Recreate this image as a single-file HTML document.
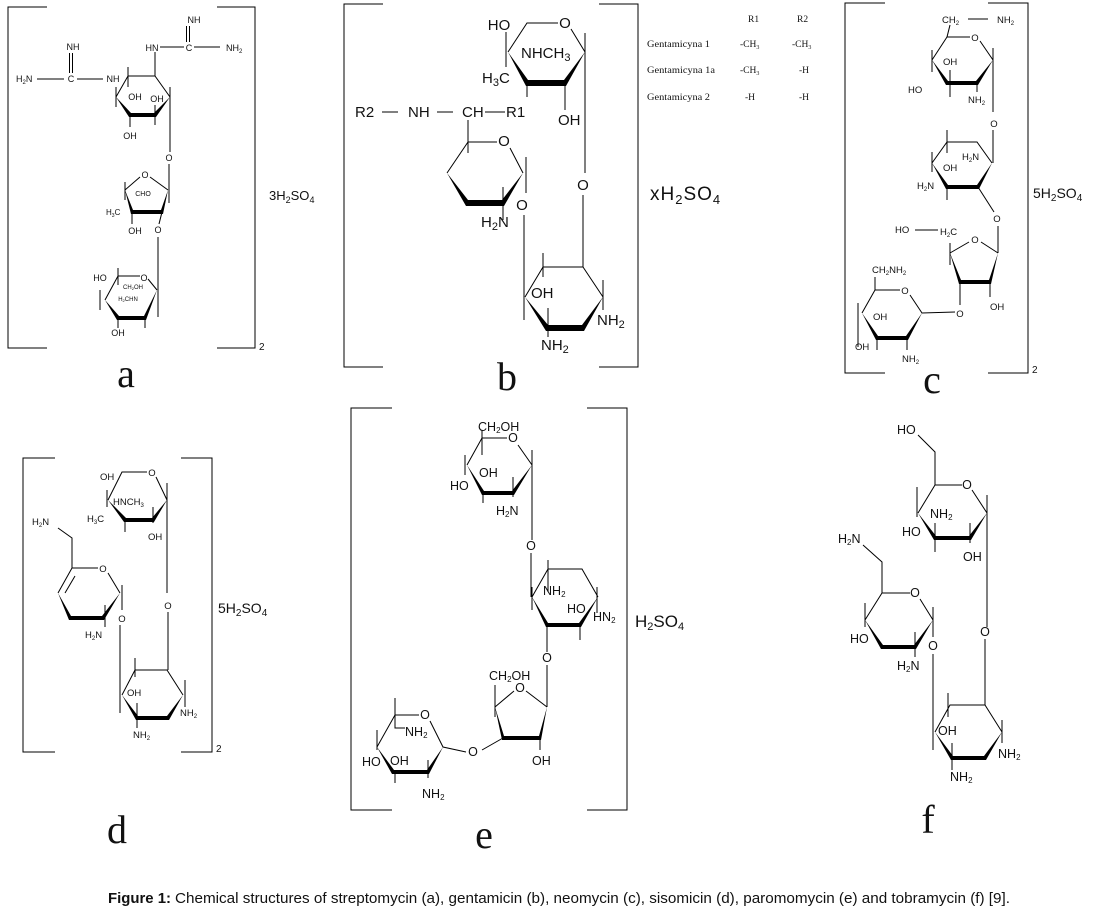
<!DOCTYPE html>
<html><head><meta charset="utf-8"><style>
html,body{margin:0;padding:0;background:#fff;}
svg{display:block;}
text{font-family:"Liberation Sans",Arial,sans-serif;fill:#111;}
.ser{font-family:"Liberation Serif","Times New Roman",serif;}
.m{text-anchor:middle;}
</style></head><body>
<svg width="1114" height="912" viewBox="0 0 1114 912" xmlns="http://www.w3.org/2000/svg">
<rect width="1114" height="912" fill="#fff"/>

<!-- ================= a ================= -->
<g stroke="#000" stroke-width="1" fill="none">
<path d="M47,7 H8 V348 H47"/>
<path d="M217,7 H255 V348 H217"/>
<line x1="186.5" y1="26" x2="186.5" y2="42"/><line x1="189.5" y1="26" x2="189.5" y2="42"/>
<line x1="160" y1="47" x2="184" y2="47"/><line x1="194" y1="47" x2="220" y2="47"/>
<line x1="155" y1="52" x2="155" y2="76"/>
<line x1="69.5" y1="53" x2="69.5" y2="73"/><line x1="72.5" y1="53" x2="72.5" y2="73"/>
<line x1="37" y1="79" x2="64" y2="79"/><line x1="77" y1="79" x2="103" y2="79"/>
<line x1="128" y1="67" x2="128" y2="87"/>
<path d="M116,97 L128,76 L155,76 L170,97"/>
<line x1="116" y1="87" x2="116" y2="107"/>
<line x1="170" y1="87" x2="170" y2="152"/>
<line x1="130" y1="115" x2="130" y2="127"/>
<line x1="155" y1="105" x2="155" y2="125"/>
<line x1="169" y1="164" x2="169" y2="190"/>
<path d="M125,190 L140,177 M150,177 L168,190"/>
<line x1="125" y1="182" x2="125" y2="200"/>
<line x1="169" y1="182" x2="169" y2="203"/>
<line x1="132" y1="212" x2="132" y2="224"/>
<line x1="162" y1="212" x2="159" y2="224"/>
<line x1="158" y1="237" x2="158" y2="317"/>
<path d="M105,300 L118,276 L140,276 M148,279 L157,290"/>
<line x1="100" y1="290" x2="100" y2="310"/>
<line x1="118" y1="268" x2="118" y2="285"/>
<line x1="118" y1="318" x2="118" y2="328"/>
<line x1="145" y1="318" x2="145" y2="328"/>
</g>
<g fill="#000">
<polygon points="116,97 129,117 156,117 170,97 154,113 131,113"/>
<polygon points="125,190 131,214 163,214 168,190 161,210 133,210"/>
<polygon points="105,300 117,320 146,320 157,290 144,316 119,316"/>
</g>
<g font-size="9">
<text class="m" x="194" y="23">NH</text>
<text class="m" x="189" y="51">C</text>
<text class="m" x="152" y="51">HN</text>
<text x="226" y="51">NH<tspan font-size="6" dy="2">2</tspan></text>
<text class="m" x="73" y="50">NH</text>
<text class="m" x="71" y="82">C</text>
<text x="16" y="82">H<tspan font-size="6" dy="2">2</tspan><tspan dy="-2">N</tspan></text>
<text class="m" x="113" y="82">NH</text>
<text class="m" x="135" y="100">OH</text>
<text class="m" x="157" y="102">OH</text>
<text class="m" x="130" y="139">OH</text>
<text class="m" x="169" y="161">O</text>
<text class="m" x="145" y="178">O</text>
<text class="m" x="143" y="196" font-size="7">CHO</text>
<text x="106" y="215" font-size="8">H<tspan font-size="5" dy="2">3</tspan><tspan dy="-2">C</tspan></text>
<text class="m" x="135" y="234">OH</text>
<text class="m" x="158" y="233">O</text>
<text class="m" x="100" y="281">HO</text>
<text class="m" x="144" y="281">O</text>
<text class="m" x="133" y="289" font-size="6">CH<tspan font-size="4" dy="1">2</tspan><tspan dy="-1">OH</tspan></text>
<text class="m" x="128" y="301" font-size="6">H<tspan font-size="4" dy="1">2</tspan><tspan dy="-1">CHN</tspan></text>
<text class="m" x="118" y="336">OH</text>
</g>
<text x="259" y="350" font-size="10">2</text>
<text x="269" y="200" font-size="13">3H<tspan font-size="9" dy="3">2</tspan><tspan dy="-3">SO</tspan><tspan font-size="9" dy="3">4</tspan></text>
<text class="ser m" x="126" y="387" font-size="40">a</text>

<!-- ================= b ================= -->
<g stroke="#000" stroke-width="1" fill="none">
<path d="M383,4 H344 V367 H383"/>
<path d="M599,4 H638 V367 H599"/>
<path d="M508,52 L527,23 L558,23 M571,29 L585,52"/>
<line x1="506" y1="32" x2="506" y2="67"/>
<line x1="527" y1="83" x2="527" y2="97"/>
<line x1="565" y1="83" x2="565" y2="110"/>
<line x1="585" y1="33" x2="585" y2="173"/>
<line x1="583" y1="195" x2="583" y2="267"/>
<line x1="382" y1="112" x2="398" y2="112"/>
<line x1="437" y1="112" x2="453" y2="112"/>
<line x1="485" y1="112" x2="505" y2="112"/>
<line x1="468" y1="120" x2="468" y2="153"/>
<path d="M447,173 L468,142 L497,142 M510,148 L523,173"/>
<line x1="526" y1="157" x2="526" y2="193"/>
<line x1="503" y1="187" x2="503" y2="220"/>
<line x1="524" y1="215" x2="524" y2="320"/>
<path d="M525,297 L543,267 L583,267 L603,297"/>
<line x1="543" y1="253" x2="543" y2="277"/>
<line x1="603" y1="280" x2="603" y2="310"/>
<line x1="548" y1="308" x2="548" y2="337"/>
</g>
<g fill="#000">
<polygon points="508,52 526,86 566,86 585,52 564,80 528,80"/>
<polygon points="447,173 466,206 504,206 523,173 502,200 468,200"/>
<polygon points="525,297 546,331 584,331 603,297 582,325 548,325"/>
</g>
<g font-size="15" fill="#222">
<text class="m" x="499" y="30">HO</text>
<text class="m" x="565" y="28">O</text>
<text x="521" y="58">NHCH<tspan font-size="11" dy="3">3</tspan></text>
<text x="482" y="83">H<tspan font-size="11" dy="3">3</tspan><tspan dy="-3">C</tspan></text>
<text x="558" y="125">OH</text>
<text class="m" x="583" y="190">O</text>
<text x="355" y="117">R2</text>
<text x="408" y="117">NH</text>
<text x="462" y="117">CH</text>
<text x="506" y="117">R1</text>
<text class="m" x="504" y="146">O</text>
<text class="m" x="522" y="210">O</text>
<text x="481" y="227">H<tspan font-size="11" dy="3">2</tspan><tspan dy="-3">N</tspan></text>
<text x="531" y="298">OH</text>
<text x="597" y="325">NH<tspan font-size="11" dy="3">2</tspan></text>
<text x="541" y="350">NH<tspan font-size="11" dy="3">2</tspan></text>
</g>
<text x="650" y="200" font-size="19" letter-spacing="1">xH<tspan font-size="13" dy="4">2</tspan><tspan dy="-4">SO</tspan><tspan font-size="13" dy="4">4</tspan></text>
<text class="ser m" x="507" y="390" font-size="40">b</text>
<g class="ser" font-size="9.5">
<text class="ser" x="748" y="22">R1</text>
<text class="ser" x="797" y="22">R2</text>
<text class="ser" x="647" y="47" textLength="63" lengthAdjust="spacingAndGlyphs">Gentamicyna 1</text>
<text class="ser" x="740" y="47">-CH<tspan font-size="6" dy="2">3</tspan></text>
<text class="ser" x="792" y="47">-CH<tspan font-size="6" dy="2">3</tspan></text>
<text class="ser" x="647" y="73" textLength="68" lengthAdjust="spacingAndGlyphs">Gentamicyna 1a</text>
<text class="ser" x="740" y="73">-CH<tspan font-size="6" dy="2">3</tspan></text>
<text class="ser" x="799" y="73">-H</text>
<text class="ser" x="647" y="100" textLength="63" lengthAdjust="spacingAndGlyphs">Gentamicyna 2</text>
<text class="ser" x="745" y="100">-H</text>
<text class="ser" x="799" y="100">-H</text>
</g>

<!-- ================= c ================= -->
<g stroke="#000" stroke-width="1" fill="none">
<path d="M885,3 H845 V373 H885"/>
<path d="M988,3 H1028 V373 H988"/>
<line x1="968" y1="19" x2="988" y2="19"/>
<line x1="950" y1="25" x2="947" y2="37"/>
<path d="M932,60 L947,37 L970,37 M980,41 L993,60"/>
<line x1="932" y1="50" x2="932" y2="72"/>
<line x1="950" y1="70" x2="950" y2="97"/>
<line x1="977" y1="83" x2="977" y2="92"/>
<line x1="993" y1="48" x2="993" y2="112"/>
<line x1="993" y1="130" x2="993" y2="163"/>
<path d="M932,163 L947,142 L977,142 L992,163"/>
<line x1="947" y1="130" x2="947" y2="153"/>
<line x1="932" y1="152" x2="932" y2="172"/>
<line x1="947" y1="187" x2="947" y2="200"/>
<line x1="978" y1="187" x2="994" y2="212"/>
<line x1="998" y1="226" x2="998" y2="253"/>
<line x1="915" y1="230" x2="938" y2="230"/>
<path d="M950,253 L969,242 M981,242 L998,253"/>
<line x1="950" y1="243" x2="950" y2="265"/>
<line x1="990" y1="282" x2="990" y2="297"/>
<line x1="960" y1="282" x2="960" y2="305"/>
<line x1="875" y1="277" x2="875" y2="290"/>
<path d="M862,313 L875,290 L900,290 M910,295 L922,313 L955,312"/>
<line x1="858" y1="303" x2="858" y2="347"/>
<line x1="877" y1="338" x2="877" y2="350"/>
<line x1="907" y1="338" x2="907" y2="350"/>
</g>
<g fill="#000">
<polygon points="932,60 946,85 978,85 993,60 976,81 948,81"/>
<polygon points="932,163 946,189 979,189 992,163 977,185 948,185"/>
<polygon points="950,253 959,284 991,284 998,253 989,280 961,280"/>
<polygon points="862,313 876,340 908,340 922,313 906,336 878,336"/>
</g>
<g font-size="9.5">
<text x="942" y="23">CH<tspan font-size="6" dy="2">2</tspan></text>
<text x="997" y="23">NH<tspan font-size="6" dy="2">2</tspan></text>
<text class="m" x="975" y="41">O</text>
<text x="943" y="65">OH</text>
<text x="908" y="93">HO</text>
<text x="968" y="103">NH<tspan font-size="6" dy="2">2</tspan></text>
<text class="m" x="994" y="127">O</text>
<text x="962" y="160">H<tspan font-size="6" dy="2">2</tspan><tspan dy="-2">N</tspan></text>
<text x="943" y="171">OH</text>
<text x="917" y="189">H<tspan font-size="6" dy="2">2</tspan><tspan dy="-2">N</tspan></text>
<text class="m" x="997" y="222">O</text>
<text x="895" y="233">HO</text>
<text x="940" y="235">H<tspan font-size="6" dy="2">2</tspan><tspan dy="-2">C</tspan></text>
<text class="m" x="975" y="243">O</text>
<text x="990" y="310">OH</text>
<text class="m" x="960" y="317">O</text>
<text x="872" y="273">CH<tspan font-size="6" dy="2">2</tspan><tspan dy="-2">NH</tspan><tspan font-size="6" dy="2">2</tspan></text>
<text class="m" x="905" y="294">O</text>
<text x="873" y="320">OH</text>
<text x="855" y="350">OH</text>
<text x="902" y="362">NH<tspan font-size="6" dy="2">2</tspan></text>
</g>
<text x="1032" y="373" font-size="10">2</text>
<text x="1033" y="198" font-size="14">5H<tspan font-size="10" dy="3">2</tspan><tspan dy="-3">SO</tspan><tspan font-size="10" dy="3">4</tspan></text>
<text class="ser m" x="932" y="393" font-size="40">c</text>

<!-- ================= d ================= -->
<g stroke="#000" stroke-width="1" fill="none">
<path d="M55,458 H23 V752 H55"/>
<path d="M181,458 H212 V752 H181"/>
<path d="M108,500 L122,472 L147,472 M156,477 L167,500"/>
<line x1="107" y1="490" x2="107" y2="507"/>
<line x1="125" y1="520" x2="125" y2="532"/>
<line x1="153" y1="507" x2="153" y2="523"/>
<line x1="167" y1="483" x2="167" y2="593"/>
<line x1="168" y1="612" x2="168" y2="670"/>
<path d="M58,528 L72,538 L72,568 L98,568 M108,573 L120,593"/>
<path d="M72,568 L58,593 M75,576 L65,593"/>
<line x1="122" y1="585" x2="122" y2="610"/>
<line x1="105" y1="605" x2="105" y2="627"/>
<line x1="120" y1="625" x2="120" y2="713"/>
<path d="M122,695 L135,670 L167,670 L183,695"/>
<line x1="135" y1="658" x2="135" y2="677"/>
<line x1="185" y1="680" x2="185" y2="707"/>
<line x1="137" y1="703" x2="137" y2="728"/>
</g>
<g fill="#000">
<polygon points="108,500 124,522 154,522 167,500 152,518 126,518"/>
<polygon points="58,593 69,620 104,620 120,593 102,616 71,616"/>
<polygon points="122,695 136,720 169,720 183,695 167,716 138,716"/>
</g>
<g font-size="9.5">
<text x="100" y="480">OH</text>
<text class="m" x="152" y="476">O</text>
<text x="113" y="505">HNCH<tspan font-size="6" dy="2">3</tspan></text>
<text x="87" y="522">H<tspan font-size="6" dy="2">3</tspan><tspan dy="-2">C</tspan></text>
<text x="148" y="540">OH</text>
<text class="m" x="168" y="609">O</text>
<text x="32" y="525">H<tspan font-size="6" dy="2">2</tspan><tspan dy="-2">N</tspan></text>
<text class="m" x="103" y="572">O</text>
<text class="m" x="122" y="622">O</text>
<text x="85" y="638">H<tspan font-size="6" dy="2">2</tspan><tspan dy="-2">N</tspan></text>
<text x="127" y="696">OH</text>
<text x="180" y="716">NH<tspan font-size="6" dy="2">2</tspan></text>
<text x="133" y="738">NH<tspan font-size="6" dy="2">2</tspan></text>
</g>
<text x="216" y="752" font-size="10">2</text>
<text x="218" y="613" font-size="14">5H<tspan font-size="10" dy="3">2</tspan><tspan dy="-3">SO</tspan><tspan font-size="10" dy="3">4</tspan></text>
<text class="ser m" x="117" y="843" font-size="40">d</text>

<!-- ================= e ================= -->
<g stroke="#000" stroke-width="1" fill="none">
<path d="M392,408 H351 V810 H392"/>
<path d="M587,408 H627 V810 H587"/>
<path d="M467,465 L482,438 L507,438 M518,445 L532,465"/>
<line x1="482" y1="430" x2="482" y2="455"/>
<line x1="465" y1="455" x2="465" y2="475"/>
<line x1="483" y1="493" x2="483" y2="503"/>
<line x1="513" y1="477" x2="513" y2="497"/>
<line x1="532" y1="450" x2="532" y2="540"/>
<line x1="531" y1="553" x2="531" y2="597"/>
<path d="M532,597 L548,569 L582,569 L598,597"/>
<line x1="548" y1="560" x2="548" y2="592"/>
<line x1="597" y1="587" x2="597" y2="613"/>
<line x1="532" y1="587" x2="532" y2="610"/>
<line x1="580" y1="623" x2="580" y2="640"/>
<line x1="547" y1="625" x2="547" y2="652"/>
<line x1="547" y1="665" x2="547" y2="707"/>
<path d="M495,707 L514,691 M526,691 L547,707"/>
<line x1="495" y1="685" x2="495" y2="717"/>
<line x1="503" y1="738" x2="482" y2="750"/>
<line x1="540" y1="738" x2="540" y2="750"/>
<path d="M377,747 L395,715 L419,715 M430,721 L443,747 L466,752"/>
<path d="M395,698 L395,728 L405,728"/>
<line x1="377" y1="730" x2="377" y2="750"/>
<line x1="428" y1="760" x2="428" y2="778"/>
<line x1="395" y1="772" x2="395" y2="783"/>
</g>
<g fill="#000">
<polygon points="467,465 482,495 514,495 532,465 512,491 484,491"/>
<polygon points="532,597 546,627 581,627 598,597 579,623 548,623"/>
<polygon points="495,707 502,740 541,740 547,707 539,736 504,736"/>
<polygon points="377,747 392,774 429,774 443,747 427,770 394,770"/>
</g>
<g font-size="12.5">
<text x="478" y="431">CH<tspan font-size="8" dy="2">2</tspan><tspan dy="-2">OH</tspan></text>
<text class="m" x="513" y="442">O</text>
<text x="479" y="477">OH</text>
<text x="450" y="490">HO</text>
<text x="496" y="515">H<tspan font-size="8" dy="2">2</tspan><tspan dy="-2">N</tspan></text>
<text class="m" x="531" y="550">O</text>
<text x="543" y="595">NH<tspan font-size="8" dy="2">2</tspan></text>
<text x="567" y="613">HO</text>
<text x="593" y="621">HN<tspan font-size="8" dy="2">2</tspan></text>
<text class="m" x="547" y="662">O</text>
<text x="489" y="680">CH<tspan font-size="8" dy="2">2</tspan><tspan dy="-2">OH</tspan></text>
<text class="m" x="520" y="692">O</text>
<text class="m" x="473" y="756">O</text>
<text x="532" y="765">OH</text>
<text class="m" x="425" y="719">O</text>
<text x="405" y="736">NH<tspan font-size="8" dy="2">2</tspan></text>
<text x="362" y="766">HO</text>
<text x="390" y="765">OH</text>
<text x="422" y="798">NH<tspan font-size="8" dy="2">2</tspan></text>
</g>
<text x="635" y="627" font-size="17">H<tspan font-size="11" dy="3">2</tspan><tspan dy="-3">SO</tspan><tspan font-size="11" dy="3">4</tspan></text>
<text class="ser m" x="484" y="848" font-size="40">e</text>

<!-- ================= f ================= -->
<g stroke="#000" stroke-width="1" fill="none">
<path d="M918,435 L935,452 L935,485"/>
<path d="M918,513 L935,485 L962,485 M972,490 L987,513"/>
<line x1="917" y1="487" x2="917" y2="517"/>
<line x1="935" y1="523" x2="935" y2="552"/>
<line x1="970" y1="523" x2="970" y2="543"/>
<line x1="987" y1="495" x2="987" y2="627"/>
<line x1="985" y1="639" x2="985" y2="705"/>
<path d="M863,545 L882,562 L882,593"/>
<path d="M865,620 L882,593 L910,593 M920,599 L933,620"/>
<line x1="865" y1="603" x2="865" y2="627"/>
<line x1="933" y1="607" x2="933" y2="637"/>
<line x1="915" y1="632" x2="915" y2="657"/>
<line x1="933" y1="654" x2="933" y2="750"/>
<path d="M935,732 L950,705 L985,705 L1002,732"/>
<line x1="948" y1="693" x2="948" y2="717"/>
<line x1="1002" y1="720" x2="1002" y2="743"/>
<line x1="952" y1="743" x2="952" y2="770"/>
</g>
<g fill="#000">
<polygon points="918,513 934,540 971,540 987,513 969,536 936,536"/>
<polygon points="865,620 881,649 916,649 933,620 914,645 883,645"/>
<polygon points="935,732 951,760 986,760 1002,732 984,756 953,756"/>
</g>
<g font-size="12.5">
<text x="897" y="434">HO</text>
<text class="m" x="967" y="489">O</text>
<text x="930" y="518">NH<tspan font-size="8" dy="2">2</tspan></text>
<text x="902" y="536">HO</text>
<text x="963" y="561">OH</text>
<text class="m" x="985" y="636">O</text>
<text x="838" y="543">H<tspan font-size="8" dy="2">2</tspan><tspan dy="-2">N</tspan></text>
<text class="m" x="915" y="597">O</text>
<text x="850" y="643">HO</text>
<text x="897" y="670">H<tspan font-size="8" dy="2">2</tspan><tspan dy="-2">N</tspan></text>
<text class="m" x="933" y="650">O</text>
<text x="938" y="735">OH</text>
<text x="998" y="758">NH<tspan font-size="8" dy="2">2</tspan></text>
<text x="950" y="781">NH<tspan font-size="8" dy="2">2</tspan></text>
</g>
<text class="ser m" x="928" y="833" font-size="40">f</text>

<!-- ================= caption ================= -->
<text x="108" y="903" font-size="15" font-weight="bold" textLength="63" lengthAdjust="spacingAndGlyphs">Figure 1:</text>
<text x="175" y="903" font-size="15" textLength="835" lengthAdjust="spacingAndGlyphs">Chemical structures of streptomycin (a), gentamicin (b), neomycin (c), sisomicin (d), paromomycin (e) and tobramycin (f) [9].</text>
</svg>
</body></html>
